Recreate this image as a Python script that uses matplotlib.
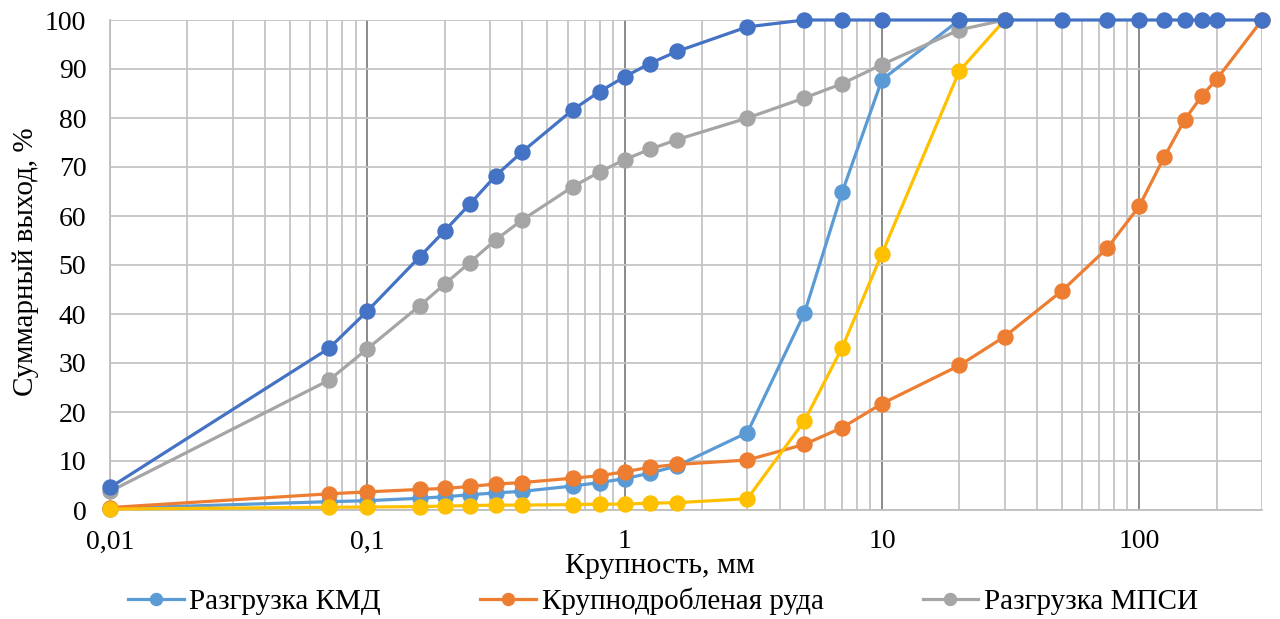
import numpy as np
import matplotlib
matplotlib.use("Agg")
import matplotlib.pyplot as plt
from matplotlib.ticker import FixedLocator, NullFormatter

plt.rcParams['font.family'] = ['Liberation Serif', 'DejaVu Serif']

# sieve sizes, mm
size_fine = [0.01, 0.071, 0.1, 0.16, 0.2, 0.25, 0.315, 0.4, 0.63, 0.8, 1,
             1.25, 1.6, 3, 5, 7, 10, 20, 30]
size_full = size_fine + [50, 75, 100, 125, 150, 175, 200, 300]

# cumulative passing, %
kmd = [0.3, 1.7, 1.9, 2.4, 2.7, 3.1, 3.5, 3.8, 4.9, 5.6, 6.4, 7.5, 9.0,
       15.8, 40.2, 64.8, 87.8, 100, 100]
crushed_ore = [0.5, 3.3, 3.7, 4.2, 4.4, 4.8, 5.3, 5.6, 6.5, 7.0, 7.8, 8.7,
               9.3, 10.2, 13.4, 16.8, 21.7, 29.5, 35.4, 44.7, 53.4, 62.0,
               72.0, 79.6, 84.5, 87.9, 100]
mpsi = [3.8, 26.5, 32.9, 41.7, 46.1, 50.5, 55.1, 59.2, 66.0, 69.0, 71.5,
        73.6, 75.6, 80.0, 84.1, 87.0, 90.9, 98.0, 100]
yellow_series = [0.2, 0.55, 0.6, 0.7, 0.8, 0.9, 1.0, 1.0, 1.1, 1.2, 1.2,
                 1.4, 1.5, 2.3, 18.2, 33.1, 52.3, 89.6, 100]
blue_series = [4.6, 33.0, 40.6, 51.7, 57.0, 62.4, 68.2, 73.1, 81.7, 85.4,
               88.4, 91.1, 93.6, 98.6, 100, 100, 100, 100, 100, 100, 100,
               100, 100, 100, 100, 100, 100]

fig = plt.figure(figsize=(12.8, 6.19), dpi=100)
ax = fig.add_axes([110 / 1280, 1 - 510 / 619, 1152 / 1280, 490 / 619])

lw = 2.3
ms = 10.8
kw = dict(lw=lw, ms=ms, clip_on=False)
ax.plot(size_fine, kmd, '-o', color='#5B9BD5', label='Разгрузка КМД',
        zorder=3, **kw)
ax.plot(size_full, crushed_ore, '-o', color='#ED7D31',
        label='Крупнодробленая руда', zorder=4, **kw)
ax.plot(size_fine, mpsi, '-o', color='#A5A5A5', label='Разгрузка МПСИ',
        zorder=5, **kw)
ax.plot(size_fine, yellow_series, '-o', color='#FFC000', zorder=6, **kw)
ax.plot(size_full, blue_series, '-o', color='#4472C4', zorder=7, **kw)

ax.set_xscale('log')
ax.set_xlim(0.01, 300)
ax.set_ylim(0, 100)

ax.set_xticks([0.01, 0.1, 1, 10, 100])
ax.set_xticklabels(['0,01', '0,1', '1', '10', '100'])
minor = [m * 10.0 ** e for e in range(-2, 3) for m in range(2, 10)]
minor = [v for v in minor if v <= 300]
ax.xaxis.set_minor_locator(FixedLocator(minor))
ax.xaxis.set_minor_formatter(NullFormatter())
ax.set_yticks(np.arange(0, 101, 10))

ax.grid(which='major', axis='x', color='#808080', lw=1.3)
ax.grid(which='minor', axis='x', color='#C4C4C4', lw=1.3)
ax.grid(which='major', axis='y', color='#C4C4C4', lw=1.3)
ax.set_axisbelow(True)

for s in ['top', 'right']:
    ax.spines[s].set_visible(False)
for s in ['left', 'bottom']:
    ax.spines[s].set_color('#BFBFBF')
    ax.spines[s].set_linewidth(1.3)

ax.tick_params(which='both', length=0, labelsize=20, colors='black')
ax.tick_params(axis='y', pad=17)
ax.tick_params(axis='x', pad=14)

fig.text(660 / 1280, 1 - 566 / 619, 'Крупность, мм', ha='center',
         va='center', fontsize=21.5)
fig.text(26 / 1280, 1 - 262 / 619, 'Суммарный выход, %', ha='center',
         va='center', rotation=90, fontsize=21)

fig.legend(loc='center', bbox_to_anchor=(663 / 1280, 1 - 601 / 619),
           ncol=3, frameon=False, fontsize=21, handlelength=1.9,
           columnspacing=3.4, handletextpad=0.2, borderpad=0,
           markerscale=0.8)

fig.savefig('out.png', dpi=100)
